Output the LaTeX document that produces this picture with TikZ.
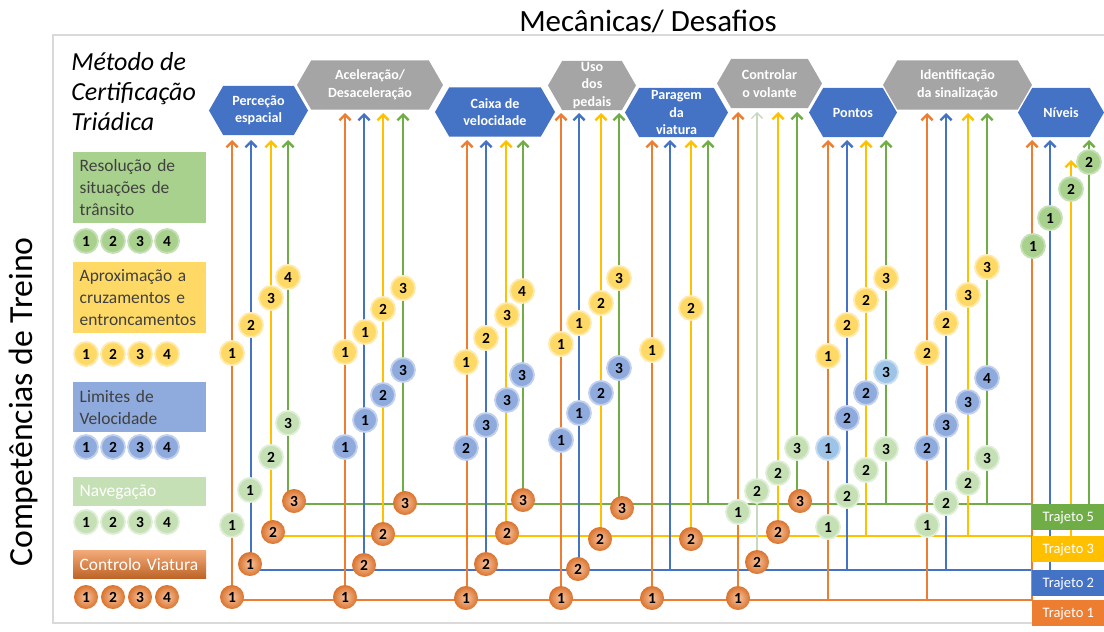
\documentclass[tikz,border=0pt]{standalone}
\usepackage{fontspec}
\setmainfont{Carlito}
\usetikzlibrary{arrows.meta}
\usetikzlibrary{shapes.symbols}
\definecolor{corange}{HTML}{ED7D31}
\definecolor{cblue}{HTML}{4472C4}
\definecolor{cyellow}{HTML}{FFC000}
\definecolor{cgreen}{HTML}{70AD47}
\definecolor{chexg}{HTML}{A5A5A5}
\definecolor{lgreen}{HTML}{A9D18E}
\definecolor{lyellow}{HTML}{FFD966}
\definecolor{lblue}{HTML}{8FAADC}
\definecolor{mblue}{HTML}{9DC3E6}
\definecolor{pgreen}{HTML}{C5E0B4}
\definecolor{cpale}{HTML}{C8D8BE}
\definecolor{txtgray}{HTML}{404040}
\tikzset{hex/.style = {signal, signal to=east and west, signal pointer angle=120,
                       inner sep=0pt, minimum height=1.23cm, text=white, align=center,
                       font=\bfseries\fontsize{10}{12.5}\selectfont}}
\tikzset{trk/.style = {line width=1.7pt, -{Straight Barb[length=4pt,width=8pt]}}}
\tikzset{blu/.style = {trk, cblue}}
\tikzset{pal/.style = {trk, cpale, line width=0.9pt}}
\tikzset{bd/.style = {circle, inner sep=0pt, minimum size=0.6cm, line width=1.3pt,
                      font=\bfseries\fontsize{11}{11}\selectfont}}
\tikzset{bdA/.style = {bd, fill=lyellow, draw=lyellow!55!white}}
\tikzset{bdL/.style = {bd, fill=lblue, draw=lblue!55!white}}
\tikzset{bdM/.style = {bd, fill=mblue, draw=mblue!55!white}}
\tikzset{bdN/.style = {bd, fill=pgreen, draw=pgreen!55!white}}
\tikzset{bdR/.style = {bd, fill=lgreen, draw=pgreen}}
\tikzset{bdC/.style = {bd, inner color=corange!45!white, outer color=corange!92!black}}
\tikzset{lgd/.style = {anchor=north west, text width=3.0cm, inner xsep=0.16cm, inner ysep=1pt,
                       align=left, font=\fontsize{12.4}{15.5}\selectfont}}
\tikzset{trj/.style = {anchor=north west, minimum width=1.8cm, minimum height=0.65cm,
                       inner sep=0pt, text=white, font=\fontsize{10.3}{12}\selectfont}}

\begin{document}
\begin{tikzpicture}[x=0.025cm, y=-0.025cm]
      \useasboundingbox (0,0) rectangle (1104,631);
      \draw [gray!30, line width=1.5pt] (1104,35) -- (53,35) -- (53,623) -- (1104,623);

      \node [font=\fontsize{22}{26}\selectfont, anchor=base] (mec) at (648,31) {Mecânicas/ Desafios};
      \node [font=\fontsize{24}{28}\selectfont, rotate=90] (comp) at (24,402) {Competências de Treino};
      \node [font=\itshape\fontsize{18.5}{21.5}\selectfont, anchor=north west, align=left, inner sep=0pt]
            (metodo) at (71,52) {Método de\\Certificação\\Triádica};

      \node [hex, fill=chexg, minimum width=3.65cm] (acel) at (370,85) {Aceleração/\\Desaceleração};
      \node [hex, fill=chexg, minimum width=2.2cm] (pedais) at (592,85.5) {Uso\\dos\\pedais};
      \node [hex, fill=chexg, minimum width=2.625cm] (volante) at (769.5,83.5) {Controlar\\o volante};
      \node [hex, fill=chexg, minimum width=3.725cm] (sinal) at (957.5,85) {Identificação\\da sinalização};
      \node [hex, fill=cblue, minimum width=2.475cm] (perc) at (258.5,110.5) {Perceção\\espacial};
      \node [hex, fill=cblue, minimum width=3.0cm] (caixa) at (495,112) {Caixa de\\velocidade};
      \node [hex, fill=cblue, minimum width=2.575cm] (parag) at (676.5,112.5) {Paragem\\da\\viatura};
      \node [hex, fill=cblue, minimum width=2.2cm] (pontos) at (853,112.5) {Pontos};
      \node [hex, fill=cblue, minimum width=2.15cm] (niveis) at (1061,112.5) {Níveis};

      \coordinate (t5) at (1032,504);
      \coordinate (t3) at (1032,536);
      \coordinate (t2) at (1032,570);
      \coordinate (t1) at (1032,600);

      \coordinate (perc-o0) at (232,600);  \coordinate (perc-o) at (232,140);
      \coordinate (perc-b0) at (251,570);  \coordinate (perc-b) at (251,140);
      \coordinate (perc-y0) at (271,536);  \coordinate (perc-y) at (271,140);
      \coordinate (perc-g0) at (288,504);  \coordinate (perc-g) at (288,140);
      \draw [trk, corange] (t1) -- (perc-o0) -- (perc-o);
      \draw [trk, cblue] (t2) -- (perc-b0) -- (perc-b);
      \draw [trk, cyellow] (t3) -- (perc-y0) -- (perc-y);
      \draw [trk, cgreen] (t5) -- (perc-g0) -- (perc-g);

      \foreach \h/\tp/\xo/\xb/\xy/\xg/\sb in {acel/113/345/364/383/403/blu,
                                             caixa/140/467/486/506/523/blu,
                                             pedais/113/561/579/601/619/blu,
                                             parag/140/652/670/691/708/blu,
                                             volante/112/738/757/778/797/pal,
                                             pontos/140/828/847/866/886/blu,
                                             sinal/113/927/946/968/987/blu} {
        \coordinate (\h-o0) at (\xo,600);  \coordinate (\h-o) at (\xo,\tp);
        \coordinate (\h-b0) at (\xb,570);  \coordinate (\h-b) at (\xb,\tp);
        \coordinate (\h-y0) at (\xy,536);  \coordinate (\h-y) at (\xy,\tp);
        \coordinate (\h-g0) at (\xg,504);  \coordinate (\h-g) at (\xg,\tp);
        \draw [trk, corange] (\h-o0) -- (\h-o);
        \draw [\sb] (\h-b0) -- (\h-b);
        \draw [trk, cyellow] (\h-y0) -- (\h-y);
        \draw [trk, cgreen] (\h-g0) -- (\h-g);
      }

      \coordinate (niveis-o) at (1032,140);
      \coordinate (niveis-b0) at (1050,570);  \coordinate (niveis-b) at (1050,140);
      \coordinate (niveis-y0) at (1071,536);  \coordinate (niveis-y) at (1071,160);
      \coordinate (niveis-g0) at (1089,504);  \coordinate (niveis-g) at (1089,140);
      \draw [trk, corange] (t1) -- (niveis-o);
      \draw [trk, cblue] (niveis-b0) -- (niveis-b);
      \draw [trk, cyellow] (niveis-y0) -- (niveis-y);
      \draw [trk, cgreen] (niveis-g0) -- (niveis-g);

      \node [trj, fill=cgreen] (traj5) at (t5) {Trajeto 5};
      \node [trj, fill=cyellow] (traj3) at (t3) {Trajeto 3};
      \node [trj, fill=cblue] (traj2) at (t2) {Trajeto 2};
      \node [trj, fill=corange] (traj1) at (t1) {Trajeto 1};

      \foreach \ty/\n/\x/\y [count=\k] in {
          A/1/232/353, A/2/251/325, A/3/271/298, A/4/288/277,
          N/3/288/423, N/2/271/457, N/1/250/490, N/1/232/525,
          C/3/294/501, C/2/273/532, C/1/250/564, C/1/232/597,
          A/1/345/352, A/1/365/332, A/2/383/309, A/3/403/288,
          L/1/345/447, L/1/365/420, L/2/383/395, L/3/403/370,
          C/1/345/597, C/2/364/565, C/2/383/534, C/3/405/503,
          A/1/466/362, A/2/486/338, A/3/507/315, A/4/522/291,
          L/2/466/448, L/3/486/425, L/3/507/400, L/3/522/375,
          C/1/466/598, C/2/486/564, C/2/507/533, C/3/523/500,
          A/1/561/344, A/1/579/323, A/2/601/303, A/3/619/278,
          L/1/561/440, L/1/579/413, L/2/601/393, L/3/619/368,
          C/1/561/598, C/2/578/569, C/2/600/539, C/3/622/508,
          A/1/652/350, A/2/691/308, C/1/652/598, C/2/691/539,
          N/1/738/512, N/2/757/491, N/2/778/473, N/3/797/448,
          C/1/738/598, C/2/757/562, C/2/778/532, C/3/800/501,
          A/1/828/356, A/2/847/325, A/2/866/300, A/3/886/278,
          M/1/828/448, L/2/847/418, L/2/866/393, M/3/886/372,
          N/1/828/527, N/2/847/496, N/2/866/470, N/3/886/449,
          A/2/927/353, A/2/946/323, A/3/968/295, A/3/987/267,
          L/2/927/448, L/3/946/425, L/3/968/402, L/4/987/378,
          N/1/927/525, N/2/946/503, N/2/968/483, N/3/987/458,
          R/1/1033/246, R/1/1050/218, R/2/1071/189, R/2/1089/162}
        \node [bd\ty] (b\k) at (\x,\y) {\n};

      \node [lgd, fill=lgreen, text=txtgray, minimum height=1.775cm] (resol) at (73,152)
            {Resolução de\\situações de\\trânsito};
      \node [lgd, fill=lyellow, text=txtgray, minimum height=1.775cm] (aprox) at (73,262)
            {Aproximação a\\cruzamentos e\\entroncamentos};
      \node [lgd, fill=lblue, text=txtgray, minimum height=1.25cm] (limites) at (73,382)
            {Limites de\\Velocidade};
      \node [lgd, fill=pgreen, text=white, minimum height=0.725cm] (naveg) at (73,477) {Navegação};
      \node [lgd, top color=corange!65!white, bottom color=corange!80!black, text=white,
             minimum height=0.7cm] (controlo) at (73,550) {Controlo Viatura};

      \foreach \ty/\yy in {R/241, A/354, L/447, N/522, C/597}
        \foreach \n/\xx in {1/86, 2/113, 3/140, 4/167}
          \node [bd\ty] (lg\ty\n) at (\xx,\yy) {\n};
    \end{tikzpicture}
\end{document}
